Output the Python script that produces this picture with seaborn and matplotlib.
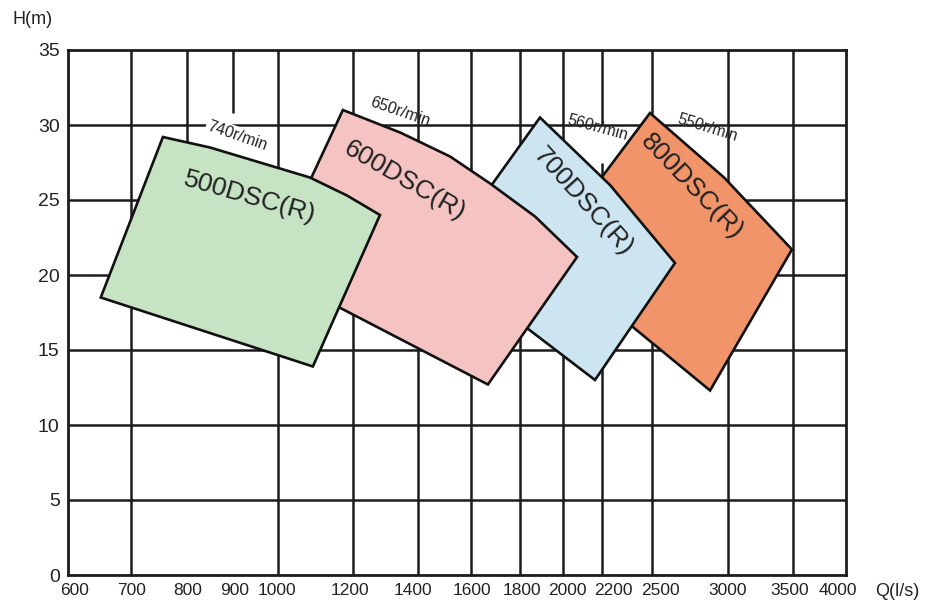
import numpy as np
import matplotlib.pyplot as plt
import matplotlib.transforms as mtransforms
import seaborn as sns

# uneven Q axis of the original performance chart
q_ticks = [600, 700, 800, 900, 1000, 1200, 1400, 1600, 1800, 2000, 2200, 2500, 3000, 3500, 4000]
h_ticks = [0, 5, 10, 15, 20, 25, 30, 35]

# working regions of each pump, outline points (Q, H)
q_500 = [757, 850, 960, 1085, 1184, 1283, 1093, 652]
h_500 = [29.2, 28.5, 27.5, 26.5, 25.3, 24.0, 13.9, 18.5]
q_600 = [1173, 1345, 1521, 1678, 1870, 2072, 1669, 978]
h_600 = [31.0, 29.5, 27.9, 26.1, 23.9, 21.2, 12.7, 20.3]
q_700 = [1893, 2248, 2651, 2164, 1475]
h_700 = [30.5, 26.0, 20.8, 13.0, 21.0]
q_800 = [2488, 2974, 3492, 2882, 1912]
h_800 = [30.8, 26.5, 21.7, 12.3, 21.4]

models = ['500DSC(R)', '600DSC(R)', '700DSC(R)', '800DSC(R)']
speeds = ['740r/min', '650r/min', '560r/min', '550r/min']

# layout: pixel spacing of the hand drawn Q scale, label spots and angles
tick_px = [68, 131, 187, 233, 278, 353, 418, 471, 520, 563, 602, 652, 728, 793, 846]
label_shift = [7, 1, 1, 2, -1, -3, -5, 1, 2, 4, 11, 8, 0, -3, -8]
model_xy = [(938, 25.2), (1360, 26.3), (2103, 24.9), (2763, 25.9)]
model_rot = [-16, -30, -48, -46]
speed_xy = [(909, 29.3), (1345, 30.9), (2179, 29.8), (2862, 29.8)]
speed_rot = [-19, -19, -15, -17]
colors = ['#c6e3c4', '#f5c3c1', '#cce5f1', '#f1946a']

sns.set_theme(style='white')
plt.rcParams['font.family'] = ['Liberation Sans', 'DejaVu Sans']

fig = plt.figure(figsize=(9.29, 6.08), dpi=100)
ax = fig.add_axes([68 / 929, 33 / 608, (846 - 68) / 929, (575 - 50) / 608])

fwd = lambda x: np.interp(x, q_ticks, tick_px)
inv = lambda p: np.interp(p, tick_px, q_ticks)
ax.set_xscale('function', functions=(fwd, inv))
ax.set_xlim(600, 4000)
ax.set_ylim(0, 35)

line_c = '#1c1c1c'
# grid - some vertical lines are only partly drawn in the original
for q in q_ticks[1:-1]:
    if q == 800:
        ax.vlines(q, 20, 35, color=line_c, lw=1.8, zorder=1)
    elif q == 900:
        ax.vlines(q, 30.8, 35, color=line_c, lw=1.8, zorder=1)
    elif q == 2200:
        ax.vlines(q, 0, 27.5, color=line_c, lw=1.8, zorder=1)
        ax.vlines(q, 30, 35, color=line_c, lw=1.8, zorder=1)
    else:
        ax.vlines(q, 0, 35, color=line_c, lw=1.8, zorder=1)
ax.hlines(h_ticks[1:-1], 600, 4000, color=line_c, lw=1.8, zorder=1)

# regions, drawn right to left so the left ones sit on top
regions = [(q_500, h_500), (q_600, h_600), (q_700, h_700), (q_800, h_800)]
for i in range(3, -1, -1):
    q, h = regions[i]
    ax.fill(q, h, facecolor=colors[i], edgecolor='#111111', lw=1.9, zorder=5 - i)
    ax.text(*model_xy[i], models[i], rotation=model_rot[i], ha='center', va='center',
            fontsize=19, color='#222222', zorder=10, rotation_mode='anchor')
    bbox = dict(facecolor='white', edgecolor='none', pad=1) if i == 0 else None
    ax.text(*speed_xy[i], speeds[i], rotation=speed_rot[i], ha='center', va='center',
            fontsize=11.5, color='#222222', zorder=1.5 if i == 0 else 10,
            rotation_mode='anchor', bbox=bbox)

ax.set_xticks(q_ticks)
ax.set_xticklabels([str(q) for q in q_ticks])
ax.set_yticks(h_ticks)
ax.set_yticklabels([str(h) for h in h_ticks])
ax.tick_params(length=0, colors='#222222')
ax.tick_params(axis='x', pad=6, labelsize=12.5)
ax.tick_params(axis='y', pad=6, labelsize=14)
for lab, dx in zip(ax.get_xticklabels(), label_shift):
    lab.set_transform(lab.get_transform() + mtransforms.ScaledTranslation(dx / 100, 0, fig.dpi_scale_trans))
for s in ax.spines.values():
    s.set_color(line_c)
    s.set_linewidth(2)
    s.set_visible(True)
ax.grid(False)

fig.text(13 / 929, 1 - 20 / 608, 'H(m)', ha='left', va='center', fontsize=13, color='#222222')
fig.text(897 / 929, 1 - 591 / 608, 'Q(l/s)', ha='center', va='center', fontsize=13, color='#222222')

fig.savefig('out.png', dpi=100)
